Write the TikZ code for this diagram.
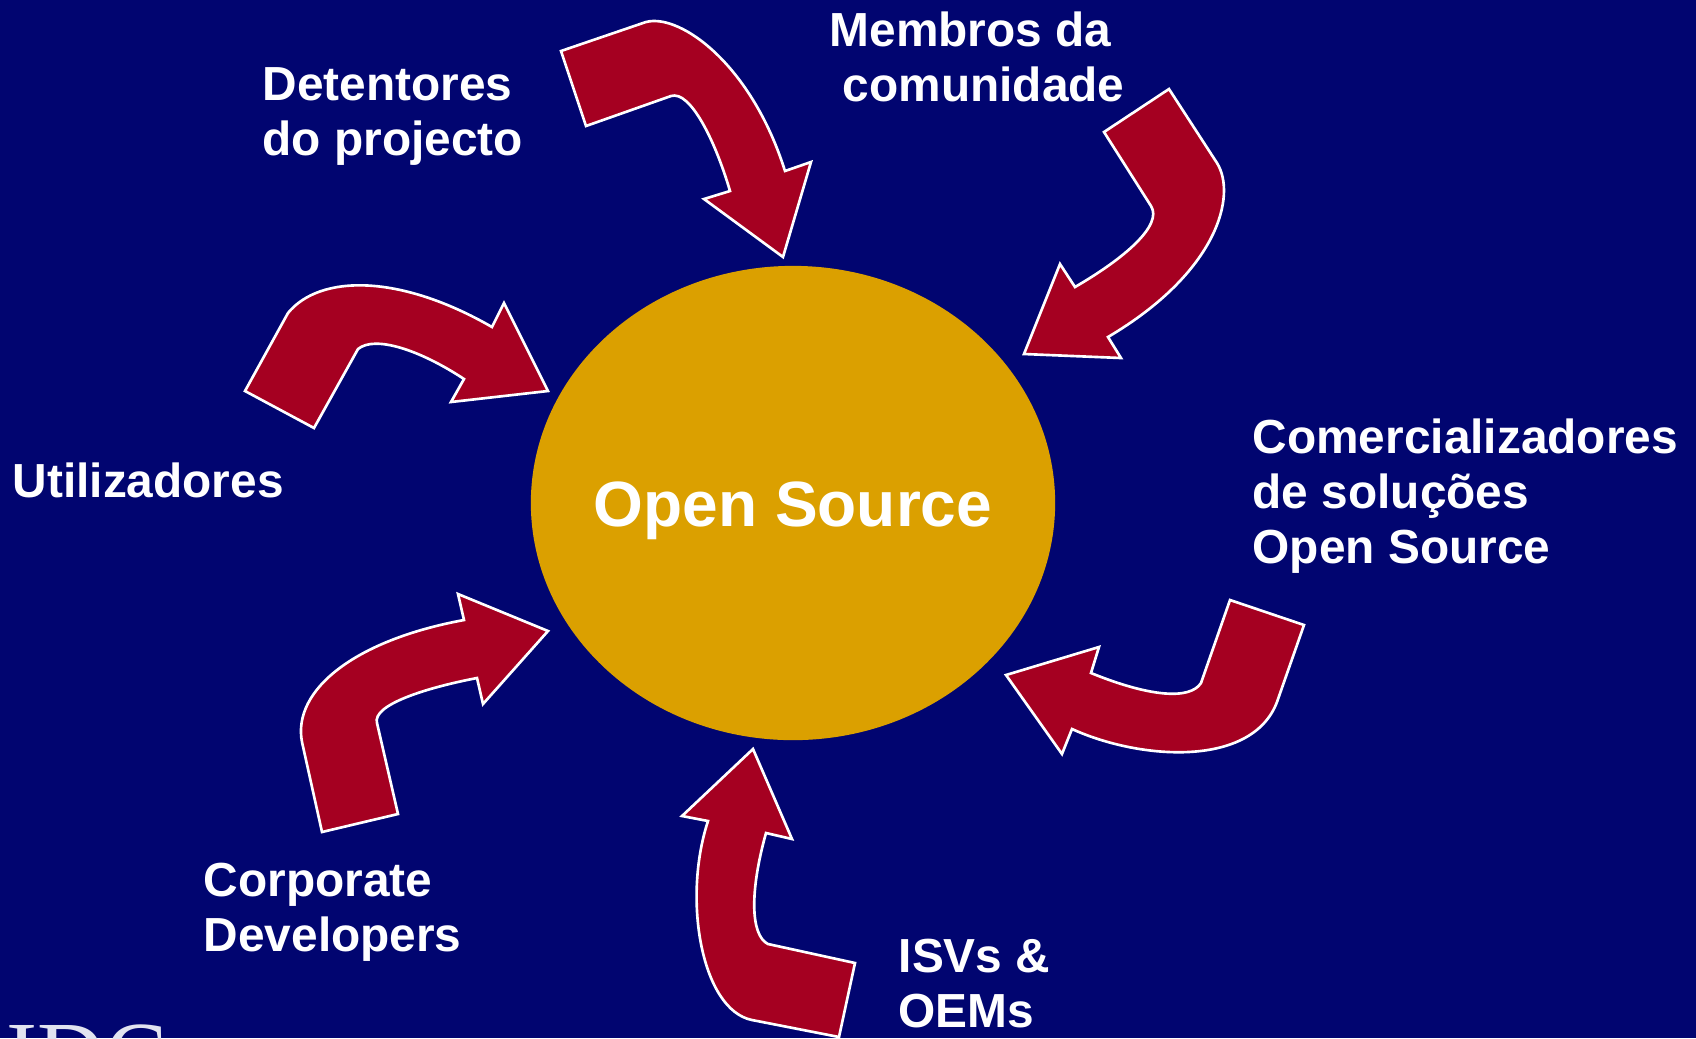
\documentclass[tikz,border=0pt]{standalone}
\usepackage{fontspec}
\usetikzlibrary{shapes.geometric}
\setmainfont{Liberation Sans}
\newfontfamily\logofont{Liberation Serif}
\definecolor{navybg}{RGB}{1,5,112}
\definecolor{arrowred}{RGB}{165,0,33}
\definecolor{coregold}{RGB}{219,160,0}
\tikzset{
  bentarrow/.style={draw=white, fill=arrowred, line width=0.75pt, line join=miter},
  grouplabel/.style={text=white, anchor=base west, align=left, inner sep=0pt, font=\bfseries\fontsize{13.6}{15.6}\selectfont},
}
\begin{document}
\begin{tikzpicture}[x=0.01cm, y=-0.01cm]
\useasboundingbox (0,0) rectangle (1696,1038);
\clip (0,0) rectangle (1696,1038);
\fill[navybg] (0,0) rectangle (1696,1038);

\node[ellipse, fill=coregold, minimum width=5.24cm, minimum height=4.74cm, inner sep=0pt] (core) at (793,503) {};
\node[text=white, inner sep=0pt, anchor=base, font=\bfseries\fontsize{18.2}{22}\selectfont] (coretext) at (793,526) {Open Source};

% detentores
\draw[bentarrow] (561,51) -- (643,23) .. controls (675,10) and (750,60) .. (785,171) -- (811,162) -- (783,257) -- (704,199) -- (730,191) .. controls (715,140) and (690,90) .. (671,96) -- (586,126) -- cycle;
% membros
\draw[bentarrow] (1169,89) -- (1217,163) .. controls (1237,195) and (1218,272) .. (1108,337) -- (1121,358) -- (1024,354) -- (1060,264) -- (1075,287) .. controls (1125,258) and (1163,225) .. (1151,206) -- (1104,132) -- cycle;
% comercializadores
\draw[bentarrow] (1230,600) -- (1304,625) -- (1277,702) .. controls (1252,768) and (1140,760) .. (1072,729) -- (1062,754) -- (1006,675) -- (1099,647) -- (1091,673) .. controls (1150,697) and (1190,700) .. (1201,683) -- cycle;
% isvs
\draw[bentarrow] (753,749) -- (792,839) -- (766,833) .. controls (750,890) and (750,935) .. (768,944) -- (855,963) -- (839,1037) -- (752,1020) .. controls (702,1010) and (682,900) .. (708,821) -- (682,816) -- cycle;
% corporate
\draw[bentarrow] (458,594) -- (548,631) -- (483,704) -- (477,678) .. controls (425,688) and (372,705) .. (377,723) -- (398,814) -- (322,832) -- (302,742) .. controls (292,690) and (355,640) .. (464,620) -- cycle;
% utilizadores
\draw[bentarrow] (245,391) -- (288,313) .. controls (320,274) and (400,274) .. (492,327) -- (504,303) -- (548,391) -- (451,402) -- (464,379) .. controls (420,350) and (375,335) .. (358,349) -- (314,428) -- cycle;

\node[grouplabel] (detentores) at (262,155) {Detentores\\do projecto};
\node[grouplabel] (membros) at (829,101) {Membros da\\\hspace{3.7pt}comunidade};
\node[grouplabel] (comercial) at (1252,563) {Comercializadores\\de soluções\\Open Source};
\node[grouplabel] (utilizadores) at (12,497) {Utilizadores};
\node[grouplabel] (corporate) at (203,951) {Corporate\\Developers};
\node[grouplabel] (isvs) at (898,1027) {ISVs \&\\OEMs};

\node[text={rgb,255:red,225;green,228;blue,240}, anchor=base west, inner sep=0pt, font=\logofont\fontsize{26.5}{28}\selectfont] (logo) at (6,1086) {IDC};
\end{tikzpicture}
\end{document}
